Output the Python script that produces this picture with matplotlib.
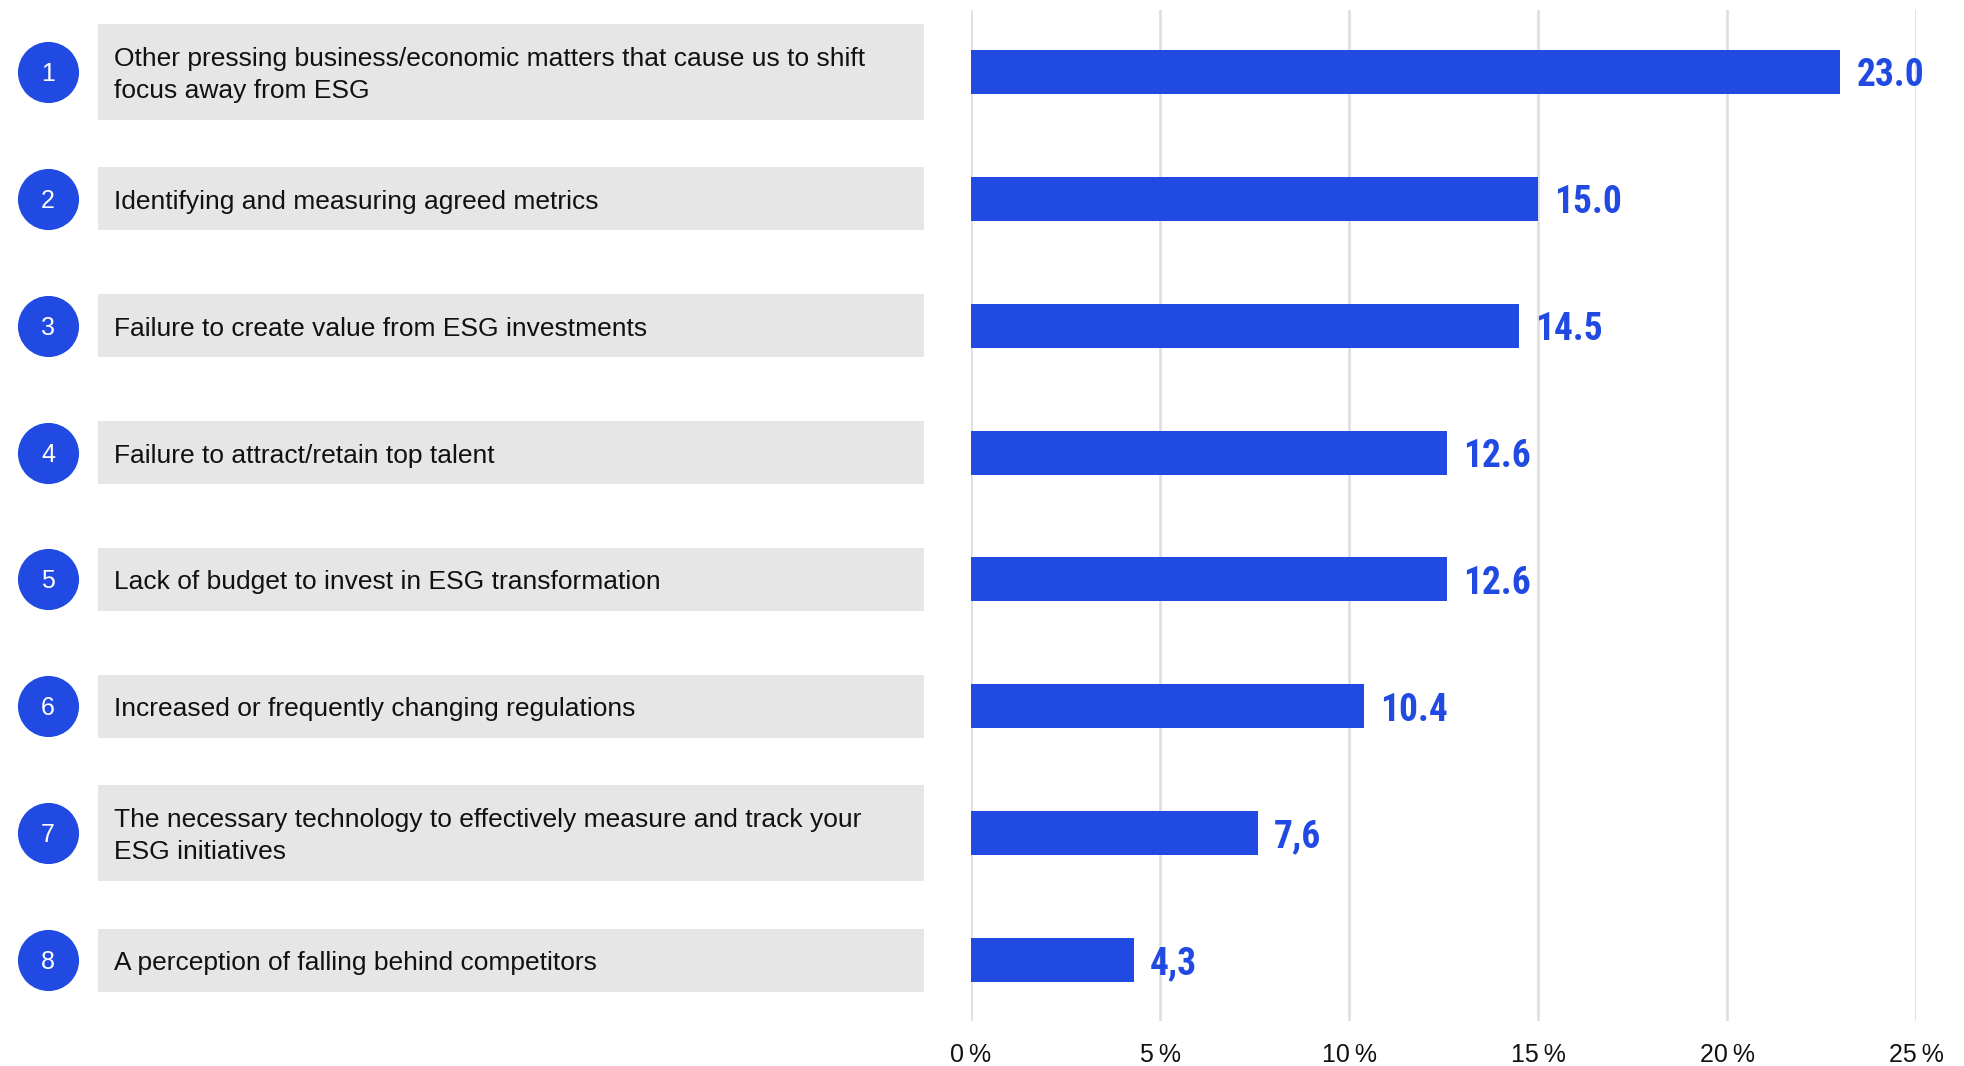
import matplotlib
matplotlib.use("Agg")
import matplotlib.pyplot as plt
from matplotlib.patches import Rectangle
from matplotlib import font_manager
from matplotlib.font_manager import FontProperties
import os

categories = [
    "Other pressing business/economic matters that cause us to shift\nfocus away from ESG",
    "Identifying and measuring agreed metrics",
    "Failure to create value from ESG investments",
    "Failure to attract/retain top talent",
    "Lack of budget to invest in ESG transformation",
    "Increased or frequently changing regulations",
    "The necessary technology to effectively measure and track your\nESG initiatives",
    "A perception of falling behind competitors",
]
values = [23.0, 15.0, 14.5, 12.6, 12.6, 10.4, 7.6, 4.3]
value_labels = ["23.0", "15.0", "14.5", "12.6", "12.6", "10.4", "7,6", "4,3"]
ticks = [0, 5, 10, 15, 20, 25]
tick_labels = ["0\u2009%", "5\u2009%", "10\u2009%", "15\u2009%", "20\u2009%", "25\u2009%"]

BLUE = "#214AE2"
GRAY_BOX = "#E6E6E6"
GRID = "#E0E0E0"
body = ["Liberation Sans", "DejaVu Sans"]

# find a condensed bold face for the value labels
prefs = [("notosansextracondensedbold", 31), ("notosanscondensedbold", 27),
         ("robotocondensedbold", 27), ("liberationsansnarrowbold", 26),
         ("notosanssemicondensedbold", 25), ("dejavusanscondensedbold", 23)]
files = {}
for f in font_manager.fontManager.ttflist:
    key = os.path.basename(f.fname).lower().replace("-", "").replace("_", "").rsplit(".", 1)[0]
    files[key] = f.fname
val_fp = None
for p, sz in prefs:
    hit = [v for k, v in files.items() if k == p]
    if hit:
        val_fp = FontProperties(fname=hit[0], size=sz)
        break
if val_fp is None:
    val_fp = FontProperties(family="DejaVu Sans", weight="bold", size=22)

W, H = 1965, 1066
fig = plt.figure(figsize=(W / 100, H / 100), dpi=100)

top_px, bot_px = 10, 1021
row0, step = 72.0, 126.86
y_top = (top_px - row0) / step
y_bot = (bot_px - row0) / step
x0_px, x25_px = 971, 1916
px = 1.0 / step  # one pixel in row units

ax = fig.add_axes([x0_px / W, (H - bot_px) / H, (x25_px - x0_px) / W, (bot_px - top_px) / H])
ax.set_xlim(0, 25)
ax.set_ylim(y_bot, y_top)
n = len(values)
ypos = list(range(n))
ax.barh(ypos, values, height=0.347, color=BLUE, zorder=3)
for y, v, lab in zip(ypos, values, value_labels):
    ax.text(v + 0.42, y + 4 * px, lab, va="center", ha="left", color=BLUE,
            fontproperties=val_fp, zorder=4)
ax.set_xticks(ticks)
ax.set_xticklabels(tick_labels, fontsize=18, family=body, color="#111111")
ax.tick_params(axis="x", length=0, pad=16)
ax.set_yticks([])
ax.grid(axis="x", color=GRID, linewidth=2, zorder=0)
for s in ax.spines.values():
    s.set_visible(False)
ax.set_facecolor("none")

axl = fig.add_axes([0, (H - bot_px) / H, x0_px / W, (bot_px - top_px) / H])
axl.set_xlim(0, x0_px)
axl.set_ylim(y_bot, y_top)
axl.axis("off")
for i, (y, cat) in enumerate(zip(ypos, categories)):
    h_px = 96 if "\n" in cat else 63
    h = h_px / step
    axl.add_patch(Rectangle((98, y - h / 2), 924 - 98, h, facecolor=GRAY_BOX, edgecolor="none"))
    axl.text(114, y + 3 * px, cat, va="center", ha="left", fontsize=19, family=body,
             color="#111111", linespacing=1.43)
    axl.scatter([48], [y], s=44 ** 2, color=BLUE, zorder=3, linewidths=0)
    axl.text(48, y + 2 * px, str(i + 1), va="center", ha="center", fontsize=18, family=body,
             color="white", zorder=4)

fig.savefig("out.png", dpi=100)
